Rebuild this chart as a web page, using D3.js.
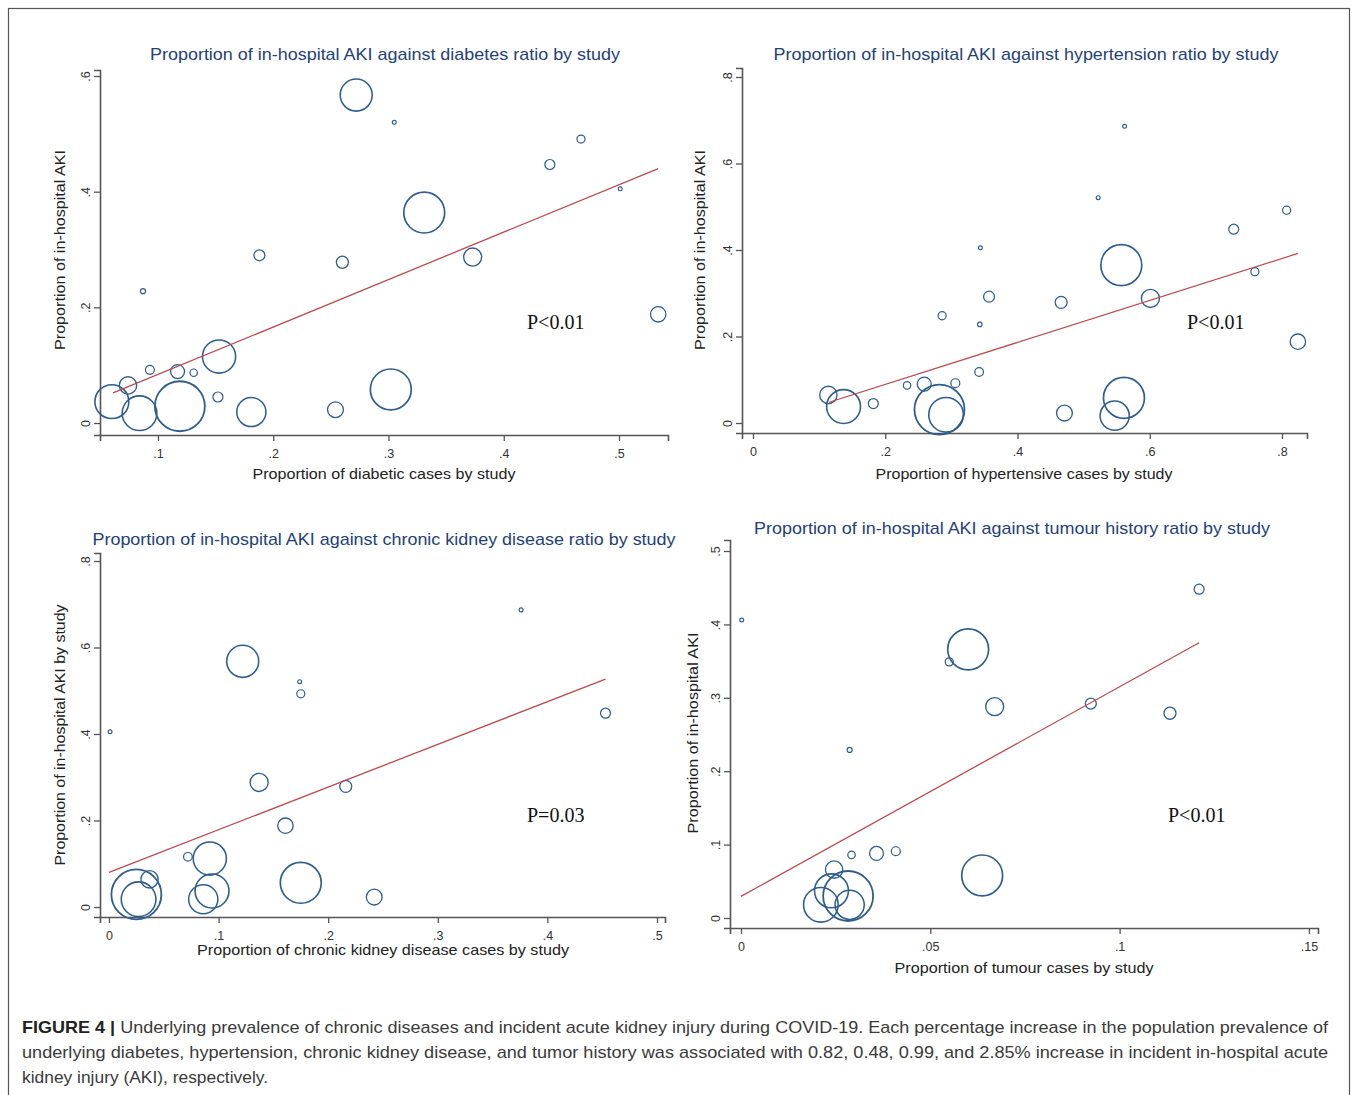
<!DOCTYPE html>
<html>
<head>
<meta charset="utf-8">
<script src="https://cdn.jsdelivr.net/npm/d3@7"></script>
<style>
  body { margin: 0; background: #fff; }
  svg { display: block; }
</style>
</head>
<body>
<svg id="canvas" width="1358" height="1095"></svg>
<script>
// Data: x = prevalence, y = in-hospital AKI, w = study weight
let diabetesX = [.272, .305, .467, .440, .501, .331, .373, .188, .260, .087, .534, .153, .093, .117, .131, .074, .152, .060, .084, .119, .181, .254, .302];
let diabetesY = [.567, .520, .491, .447, .405, .364, .287, .290, .278, .228, .188, .115, .092, .089, .087, .065, .045, .037, .017, .029, .019, .023, .058];
let diabetesW = [41, 0.6, 2.6, 4, 0.6, 67, 13, 4.8, 5.8, 1, 9.5, 44, 3.2, 7.8, 2.2, 12, 4, 46, 48, 100, 34, 10, 67];
let diabetesFit = [[0.061, 0.052], [0.534, 0.440]];

let hypertensionX = [.562, .522, .807, .727, .759, .344, .557, .357, .466, .601, .286, .343, .824, .342, .233, .259, .306, .114, .182, .137, .282, .292, .561, .471, .547];
let hypertensionY = [.686, .521, .492, .448, .350, .405, .365, .292, .279, .288, .248, .228, .188, .118, .087, .090, .092, .065, .045, .038, .031, .019, .058, .023, .017];
let hypertensionW = [0.6, 0.6, 2.6, 4, 2.6, 0.6, 67, 4.8, 5.8, 13, 2.6, 0.8, 9.5, 3, 2.2, 7.8, 3.2, 12, 4, 46, 100, 48, 67, 10, 34];
let hypertensionFit = [[0.115, 0.048], [0.824, 0.392]];

let ckdX = [.376, .122, .174, .175, .001, .453, .137, .216, .161, .072, .092, .037, .175, .094, .086, .025, .027, .242];
let ckdY = [.687, .568, .521, .493, .405, .448, .288, .279, .188, .116, .112, .064, .056, .037, .018, .029, .018, .023];
let ckdW = [0.6, 41, 0.6, 2.6, 0.6, 4, 13, 5.8, 9.5, 3, 44, 12, 67, 46, 34, 100, 48, 10];
let ckdFit = [[0.0, 0.080], [0.453, 0.527]];

let tumourX = [.0002, .121, .060, .055, .067, .0924, .1133, .0287, .0292, .0358, .0409, .0246, .0637, .0239, .0211, .0283, .0287];
let tumourY = [.406, .448, .366, .349, .288, .292, .279, .229, .086, .088, .091, .066, .058, .037, .018, .030, .018];
let tumourW = [0.6, 4, 67, 2.6, 13, 4.8, 5.8, 1, 2.2, 7.8, 3.2, 12, 67, 46, 48, 100, 34];
let tumourFit = [[0.0, 0.0295], [0.121, 0.375]];

// Tick values
let diabetesXTicks = [.1, .2, .3, .4, .5];
let diabetesYTicks = [0, .2, .4, .6];
let hypertensionXTicks = [0, .2, .4, .6, .8];
let hypertensionYTicks = [0, .2, .4, .6, .8];
let ckdXTicks = [0, .1, .2, .3, .4, .5];
let ckdYTicks = [0, .2, .4, .6, .8];
let tumourXTicks = [0, .05, .1, .15];
let tumourYTicks = [0, .1, .2, .3, .4, .5];

let panels = [
    {
        x: diabetesX, y: diabetesY, w: diabetesW, fit: diabetesFit,
        xTicks: diabetesXTicks, yTicks: diabetesYTicks,
        xDomain: [0.0497, 0.5425], yDomain: [-0.0207, 0.6104],
        left: 100, right: 668, top: 70, bottom: 435,
        title: 'Proportion of in-hospital AKI against diabetes ratio by study',
        titleX: 385, titleY: 60, titleW: 470,
        xLabel: 'Proportion of diabetic cases by study', xLabelX: 384, xLabelY: 479, xLabelW: 263,
        yLabel: 'Proportion of in-hospital AKI', yLabelX: 60, yLabelY: 250, yLabelW: 200,
        p: 'P<0.01', pX: 527, pY: 329
    },
    {
        x: hypertensionX, y: hypertensionY, w: hypertensionW, fit: hypertensionFit,
        xTicks: hypertensionXTicks, yTicks: hypertensionYTicks,
        xDomain: [-0.0166, 0.8378], yDomain: [-0.0231, 0.8208],
        left: 742, right: 1307, top: 68, bottom: 433,
        title: 'Proportion of in-hospital AKI against hypertension ratio by study',
        titleX: 1026, titleY: 60, titleW: 505,
        xLabel: 'Proportion of hypertensive cases by study', xLabelX: 1024, xLabelY: 479, xLabelW: 297,
        yLabel: 'Proportion of in-hospital AKI', yLabelX: 700, yLabelY: 250, yLabelW: 200,
        p: 'P<0.01', pX: 1187, pY: 329
    },
    {
        x: ckdX, y: ckdY, w: ckdW, fit: ckdFit,
        xTicks: ckdXTicks, yTicks: ckdYTicks,
        xDomain: [-0.0082, 0.5073], yDomain: [-0.0231, 0.8185],
        left: 100, right: 665, top: 553, bottom: 917,
        title: 'Proportion of in-hospital AKI against chronic kidney disease ratio by study',
        titleX: 384, titleY: 545, titleW: 583,
        xLabel: 'Proportion of chronic kidney disease cases by study', xLabelX: 383, xLabelY: 955, xLabelW: 372,
        yLabel: 'Proportion of in-hospital AKI by study', yLabelX: 60, yLabelY: 735, yLabelW: 261,
        p: 'P=0.03', pX: 527, pY: 822
    },
    {
        x: tumourX, y: tumourY, w: tumourW, fit: tumourFit,
        xTicks: tumourXTicks, yTicks: tumourYTicks,
        xDomain: [-0.0029, 0.1524], yDomain: [-0.0136, 0.5150],
        left: 730, right: 1318, top: 540, bottom: 928,
        title: 'Proportion of in-hospital AKI against tumour history ratio by study',
        titleX: 1012, titleY: 534, titleW: 516,
        xLabel: 'Proportion of tumour cases by study', xLabelX: 1024, xLabelY: 973, xLabelW: 259,
        yLabel: 'Proportion of in-hospital AKI', yLabelX: 693, yLabelY: 733, yLabelW: 201,
        p: 'P<0.01', pX: 1168, pY: 822
    }
];

let canvas = d3.select('#canvas');
let sansFont = '"Liberation Sans", Arial, sans-serif';
let narrowFont = '"Liberation Sans Narrow", "Liberation Sans", Arial, sans-serif';

// Stata style tick labels: drop the leading zero
let tickFormat = (d) => {
    if (d === 0) return '0';
    return String(d).replace(/^0/, '');
};

// Radius from study weight
let rScale = d3.scaleSqrt().domain([0, 100]).range([0, 25]);

// Outer frame
canvas.append('rect')
    .attr('x', 8.5).attr('y', 8.5)
    .attr('width', 1341).attr('height', 1100)
    .attr('fill', 'none')
    .attr('stroke', '#555')
    .attr('stroke-width', 1.2);

let drawPanel = (p) => {
    let g = canvas.append('g');
    let xScale = d3.scaleLinear().domain(p.xDomain).range([p.left, p.right]);
    let yScale = d3.scaleLinear().domain(p.yDomain).range([p.bottom, p.top]);

    // Axes
    let xAxis = d3.axisBottom(xScale)
        .tickValues(p.xTicks)
        .tickFormat(tickFormat)
        .tickSizeOuter(0)
        .tickSize(6)
        .tickPadding(8);
    let yAxis = d3.axisLeft(yScale)
        .tickValues(p.yTicks)
        .tickFormat(tickFormat)
        .tickSizeOuter(0)
        .tickSize(6);

    let gx = g.append('g')
        .attr('transform', 'translate(0,' + p.bottom + ')')
        .call(xAxis);
    let gy = g.append('g')
        .attr('transform', 'translate(' + p.left + ',0)')
        .call(yAxis);

    [gx, gy].forEach((ax) => {
        ax.select('.domain').attr('stroke', '#555').attr('stroke-width', 1.6);
        ax.selectAll('.tick line').attr('stroke', '#555').attr('stroke-width', 1.3);
        ax.selectAll('.tick text')
            .attr('fill', '#333')
            .style('font-family', sansFont)
            .style('font-size', '12.5px');
    });

    // y tick labels are rotated
    gy.selectAll('.tick text')
        .attr('x', null)
        .attr('dy', null)
        .attr('text-anchor', 'middle')
        .attr('transform', 'translate(-10,0) rotate(-90)');

    // Bubbles
    let idx = d3.range(p.x.length);
    g.append('g').selectAll('circle')
        .data(idx)
        .enter()
        .append('circle')
        .attr('cx', (i) => xScale(p.x[i]))
        .attr('cy', (i) => yScale(p.y[i]))
        .attr('r', (i) => rScale(p.w[i]))
        .attr('fill', 'none')
        .attr('stroke', '#2e5d8e')
        .attr('stroke-width', (i) => 1.1 + rScale(p.w[i]) * 0.028);

    // Fitted line
    let line = d3.line()
        .x((d) => xScale(d[0]))
        .y((d) => yScale(d[1]));
    g.append('path')
        .datum(p.fit)
        .attr('d', line)
        .attr('fill', 'none')
        .attr('stroke', '#bb4a4f')
        .attr('stroke-width', 1.3);

    // Title
    g.append('text')
        .attr('x', p.titleX).attr('y', p.titleY)
        .attr('text-anchor', 'middle')
        .attr('textLength', p.titleW)
        .attr('lengthAdjust', 'spacingAndGlyphs')
        .attr('fill', '#243f7a')
        .style('font-family', narrowFont)
        .style('font-size', '17px')
        .text(p.title);

    // Axis titles
    g.append('text')
        .attr('x', p.xLabelX).attr('y', p.xLabelY)
        .attr('text-anchor', 'middle')
        .attr('textLength', p.xLabelW)
        .attr('lengthAdjust', 'spacingAndGlyphs')
        .attr('fill', '#222')
        .style('font-family', narrowFont)
        .style('font-size', '15px')
        .text(p.xLabel);

    g.append('text')
        .attr('transform', 'translate(' + (p.yLabelX + 5) + ',' + p.yLabelY + ') rotate(-90)')
        .attr('text-anchor', 'middle')
        .attr('textLength', p.yLabelW)
        .attr('lengthAdjust', 'spacingAndGlyphs')
        .attr('fill', '#222')
        .style('font-family', narrowFont)
        .style('font-size', '15px')
        .text(p.yLabel);

    // P value
    g.append('text')
        .attr('x', p.pX).attr('y', p.pY)
        .attr('fill', '#111')
        .style('font-family', '"Liberation Serif", "Times New Roman", serif')
        .style('font-size', '20px')
        .text(p.p);
};

panels.forEach(drawPanel);

// Caption
let captionLines = [
    { bold: 'FIGURE 4 | ', text: 'Underlying prevalence of chronic diseases and incident acute kidney injury during COVID-19. Each percentage increase in the population prevalence of', y: 1033, w: 1306 },
    { bold: '', text: 'underlying diabetes, hypertension, chronic kidney disease, and tumor history was associated with 0.82, 0.48, 0.99, and 2.85% increase in incident in-hospital acute', y: 1058, w: 1306 },
    { bold: '', text: 'kidney injury (AKI), respectively.', y: 1083, w: 246 }
];

captionLines.forEach((c) => {
    let t = canvas.append('text')
        .attr('x', 22).attr('y', c.y)
        .attr('textLength', c.w)
        .attr('lengthAdjust', 'spacingAndGlyphs')
        .attr('fill', '#3a3a3a')
        .style('font-family', sansFont)
        .style('font-size', '17px');
    if (c.bold) {
        t.append('tspan').style('font-weight', 'bold').attr('fill', '#222').text(c.bold);
    }
    t.append('tspan').text(c.text);
});
</script>
</body>
</html>
